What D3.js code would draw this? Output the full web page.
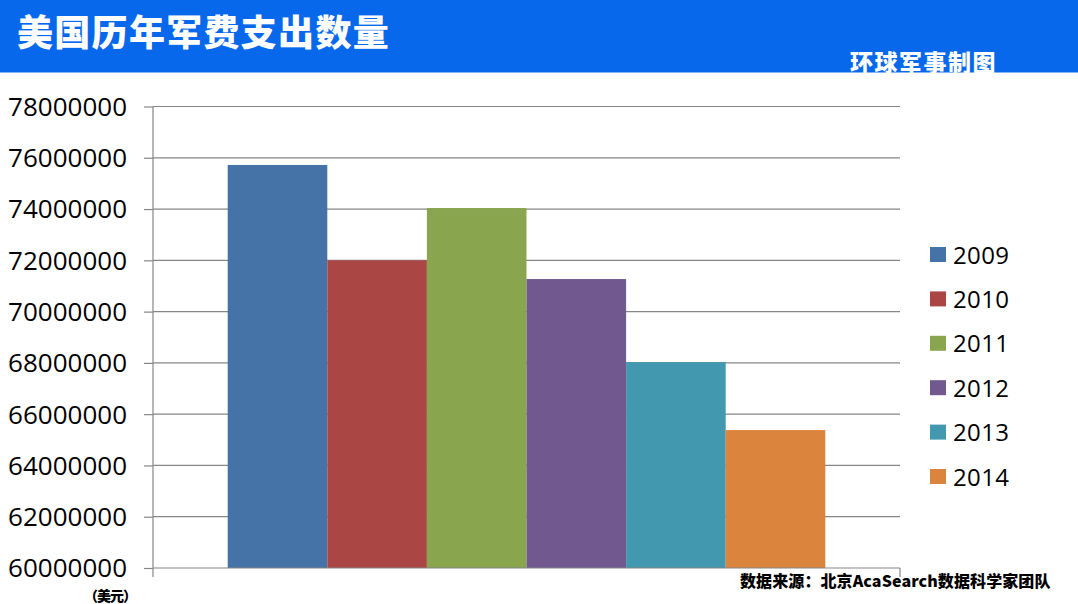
<!DOCTYPE html>
<html>
<head>
<meta charset="utf-8">
<script src="https://cdn.jsdelivr.net/npm/d3@7"></script>
<style>
  body { margin: 0; background: #fff; }
  svg { display: block; }
</style>
</head>
<body>
<svg id="chart" width="1078" height="604"></svg>
<script>
// data
const years = ["2009", "2010", "2011", "2012", "2013", "2014"];
const spending = [75720000, 72000000, 74040000, 71270000, 68030000, 65380000];
const colors = ["#4572A7", "#AA4643", "#89A54E", "#71588F", "#4198AF", "#DB843D"];
const tickValues = [60000000, 62000000, 64000000, 66000000, 68000000, 70000000, 72000000, 74000000, 76000000, 78000000];

const title = "美国历年军费支出数量";
const subtitle = "环球军事制图";
const unit = "（美元）";
const source = "数据来源：北京AcaSearch数据科学家团队";

const width = 1078, height = 604;
const plotLeft = 153, plotRight = 900, plotTop = 106.5, plotBottom = 568;

const svg = d3.select("#chart");

// header band
svg.append("rect")
    .attr("width", width)
    .attr("height", 72.5)
    .attr("fill", "#0868EB");

svg.append("text")
    .attr("x", 17)
    .attr("y", 46)
    .attr("fill", "#fff")
    .style("font", "900 36px 'Noto Sans CJK SC'")
    .style("letter-spacing", "1.3px")
    .text(title);

svg.append("text")
    .attr("x", 850)
    .attr("y", 71)
    .attr("fill", "#fff")
    .style("font", "900 23px 'Noto Sans CJK SC'")
    .style("letter-spacing", "1.5px")
    .text(subtitle);

// scales
const y = d3.scaleLinear()
    .domain([60000000, 78000000])
    .range([plotBottom, plotTop]);

const x0 = d3.scaleBand()
    .domain([""])
    .range([plotLeft, plotRight])
    .paddingOuter(0.125);

const x1 = d3.scaleBand()
    .domain(years)
    .range([0, x0.bandwidth()]);

// gridlines
svg.append("g")
  .selectAll("line")
  .data(tickValues.slice(1))
  .join("line")
    .attr("x1", plotLeft)
    .attr("x2", plotRight)
    .attr("y1", d => y(d))
    .attr("y2", d => y(d))
    .attr("stroke", "#868686")
    .attr("stroke-width", 1.2);

// bars
svg.append("g")
  .selectAll("rect")
  .data(years)
  .join("rect")
    .attr("x", d => x0("") + x1(d))
    .attr("y", (d, i) => y(spending[i]))
    .attr("width", x1.bandwidth())
    .attr("height", (d, i) => y(60000000) - y(spending[i]))
    .attr("fill", (d, i) => colors[i]);

// y axis
const yAxis = svg.append("g")
    .attr("transform", `translate(${plotLeft},0)`)
    .call(d3.axisLeft(y)
      .tickValues(tickValues)
      .tickFormat(d3.format("d"))
      .tickSize(9)
      .tickPadding(17)
      .tickSizeOuter(0));

yAxis.select(".domain").remove();
yAxis.selectAll(".tick line").attr("stroke", "#868686").attr("stroke-width", 1.2);
yAxis.selectAll(".tick text")
    .attr("fill", "#000")
    .attr("dy", "0.34em")
    .style("font", "26px 'Open Sans'");

// axis lines
svg.append("line")
    .attr("x1", plotLeft).attr("x2", plotLeft)
    .attr("y1", plotTop).attr("y2", plotBottom + 9)
    .attr("stroke", "#868686").attr("stroke-width", 1.2);

svg.append("line")
    .attr("x1", plotLeft).attr("x2", plotRight)
    .attr("y1", plotBottom).attr("y2", plotBottom)
    .attr("stroke", "#868686").attr("stroke-width", 1.2);

svg.append("line")
    .attr("x1", plotRight).attr("x2", plotRight)
    .attr("y1", plotBottom).attr("y2", plotBottom + 9)
    .attr("stroke", "#868686").attr("stroke-width", 1.2);

// legend
const legend = svg.append("g")
  .selectAll("g")
  .data(years)
  .join("g")
    .attr("transform", (d, i) => `translate(930,${254.5 + i * 44.4})`);

legend.append("rect")
    .attr("y", -7.5)
    .attr("width", 16)
    .attr("height", 15)
    .attr("fill", (d, i) => colors[i]);

legend.append("text")
    .attr("x", 23)
    .attr("y", 9)
    .attr("fill", "#000")
    .style("font", "24px 'Open Sans'")
    .style("letter-spacing", "0.4px")
    .text(d => d);

// unit and source
svg.append("text")
    .attr("x", 84)
    .attr("y", 601)
    .attr("fill", "#000")
    .style("font", "900 14px 'Noto Sans CJK SC'")
    .style("letter-spacing", "-1px")
    .text(unit);

svg.append("text")
    .attr("x", 740)
    .attr("y", 587)
    .attr("fill", "#000")
    .style("font", "900 16px 'Noto Sans CJK SC'")
    .style("letter-spacing", "0.1px")
    .text(source);
</script>
</body>
</html>
